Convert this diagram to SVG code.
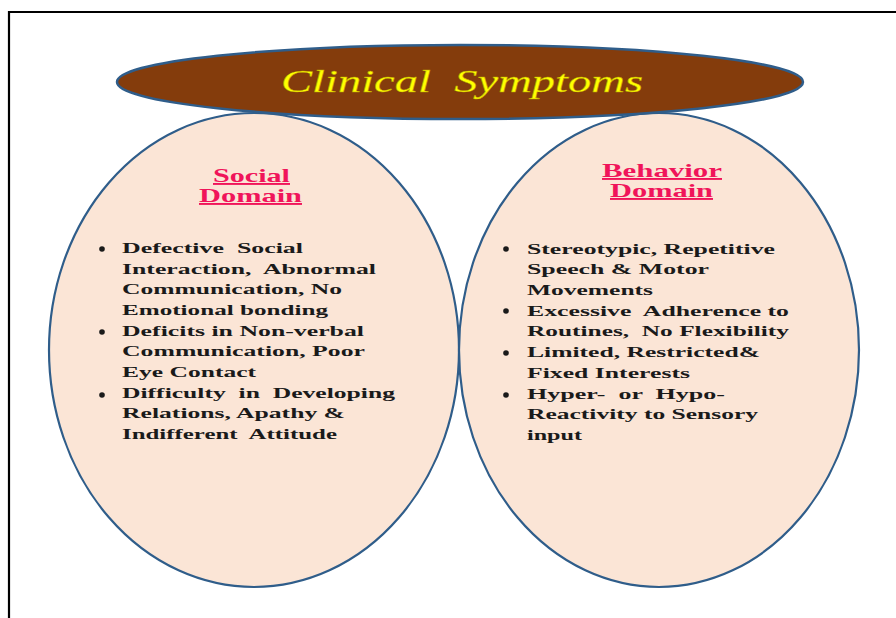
<svg xmlns="http://www.w3.org/2000/svg" width="896" height="618" viewBox="0 0 896 618">
<style>
.frame{stroke:#000;stroke-width:2.2;fill:none}
.dom{fill:#FBE5D6;stroke:#2F5D8A;stroke-width:2.2}
.ttl{fill:#843C0C;stroke:#2F5D8A;stroke-width:2.5}
.tt{font-family:"Liberation Serif","Times New Roman",serif;font-style:italic;font-size:32px;fill:#FFFF00;stroke:#B8A000;stroke-width:0.4}
.hd{font-family:"Liberation Serif","Times New Roman",serif;font-weight:bold;font-size:19px;fill:#F0145A;text-decoration:underline;text-anchor:middle}
.bt{font-family:"Liberation Serif","Times New Roman",serif;font-weight:bold;font-size:15px;fill:#1A1A1A;white-space:pre}
.bl{fill:#1A1A1A}
</style>
<rect width="896" height="618" fill="#fff"/>
<path class="frame" d="M9 618 V12 H896"/>
<g id="social-domain">
<ellipse class="dom" cx="254" cy="350" rx="205" ry="237"/>
<text class="hd" x="251.5" y="182" textLength="77" lengthAdjust="spacingAndGlyphs">Social</text>
<text class="hd" x="250.5" y="202" textLength="103" lengthAdjust="spacingAndGlyphs">Domain</text>
<circle class="bl" cx="102" cy="249" r="2.8"/>
<circle class="bl" cx="102" cy="332" r="2.8"/>
<circle class="bl" cx="102" cy="395" r="2.8"/>
<text class="bt" x="122" y="253" textLength="181" lengthAdjust="spacingAndGlyphs">Defective  Social</text>
<text class="bt" x="122" y="274" textLength="254" lengthAdjust="spacingAndGlyphs">Interaction,  Abnormal</text>
<text class="bt" x="122" y="294" textLength="220" lengthAdjust="spacingAndGlyphs">Communication, No</text>
<text class="bt" x="122" y="315" textLength="206" lengthAdjust="spacingAndGlyphs">Emotional bonding</text>
<text class="bt" x="122" y="336" textLength="242" lengthAdjust="spacingAndGlyphs">Deficits in Non-verbal</text>
<text class="bt" x="122" y="356" textLength="243" lengthAdjust="spacingAndGlyphs">Communication, Poor</text>
<text class="bt" x="122" y="377" textLength="134" lengthAdjust="spacingAndGlyphs">Eye Contact</text>
<text class="bt" x="122" y="398" textLength="273" lengthAdjust="spacingAndGlyphs">Difficulty  in  Developing</text>
<text class="bt" x="122" y="418" textLength="223" lengthAdjust="spacingAndGlyphs">Relations, Apathy &amp;</text>
<text class="bt" x="122" y="439" textLength="215" lengthAdjust="spacingAndGlyphs">Indifferent  Attitude</text>
</g>
<g id="behavior-domain">
<ellipse class="dom" cx="659" cy="350" rx="200" ry="237"/>
<text class="hd" x="662" y="177" textLength="120" lengthAdjust="spacingAndGlyphs">Behavior</text>
<text class="hd" x="661.5" y="197" textLength="103" lengthAdjust="spacingAndGlyphs">Domain</text>
<circle class="bl" cx="506" cy="249" r="2.8"/>
<circle class="bl" cx="506" cy="311" r="2.8"/>
<circle class="bl" cx="506" cy="353" r="2.8"/>
<circle class="bl" cx="506" cy="395" r="2.8"/>
<text class="bt" x="527" y="254" textLength="248" lengthAdjust="spacingAndGlyphs">Stereotypic, Repetitive</text>
<text class="bt" x="527" y="274" textLength="182" lengthAdjust="spacingAndGlyphs">Speech &amp; Motor</text>
<text class="bt" x="527" y="295" textLength="126" lengthAdjust="spacingAndGlyphs">Movements</text>
<text class="bt" x="527" y="316" textLength="262" lengthAdjust="spacingAndGlyphs">Excessive  Adherence to</text>
<text class="bt" x="527" y="336" textLength="262" lengthAdjust="spacingAndGlyphs">Routines,  No Flexibility</text>
<text class="bt" x="527" y="357" textLength="233" lengthAdjust="spacingAndGlyphs">Limited, Restricted&amp;</text>
<text class="bt" x="527" y="378" textLength="163" lengthAdjust="spacingAndGlyphs">Fixed Interests</text>
<text class="bt" x="527" y="399" textLength="198" lengthAdjust="spacingAndGlyphs">Hyper-  or  Hypo-</text>
<text class="bt" x="527" y="419" textLength="231" lengthAdjust="spacingAndGlyphs">Reactivity to Sensory</text>
<text class="bt" x="527" y="440" textLength="55" lengthAdjust="spacingAndGlyphs">input</text>
</g>
<g id="clinical-symptoms">
<ellipse class="ttl" cx="460" cy="82" rx="343" ry="37"/>
<text class="tt" x="281" y="92" textLength="362" lengthAdjust="spacingAndGlyphs" style="white-space:pre">Clinical  Symptoms</text>
</g>
</svg>
